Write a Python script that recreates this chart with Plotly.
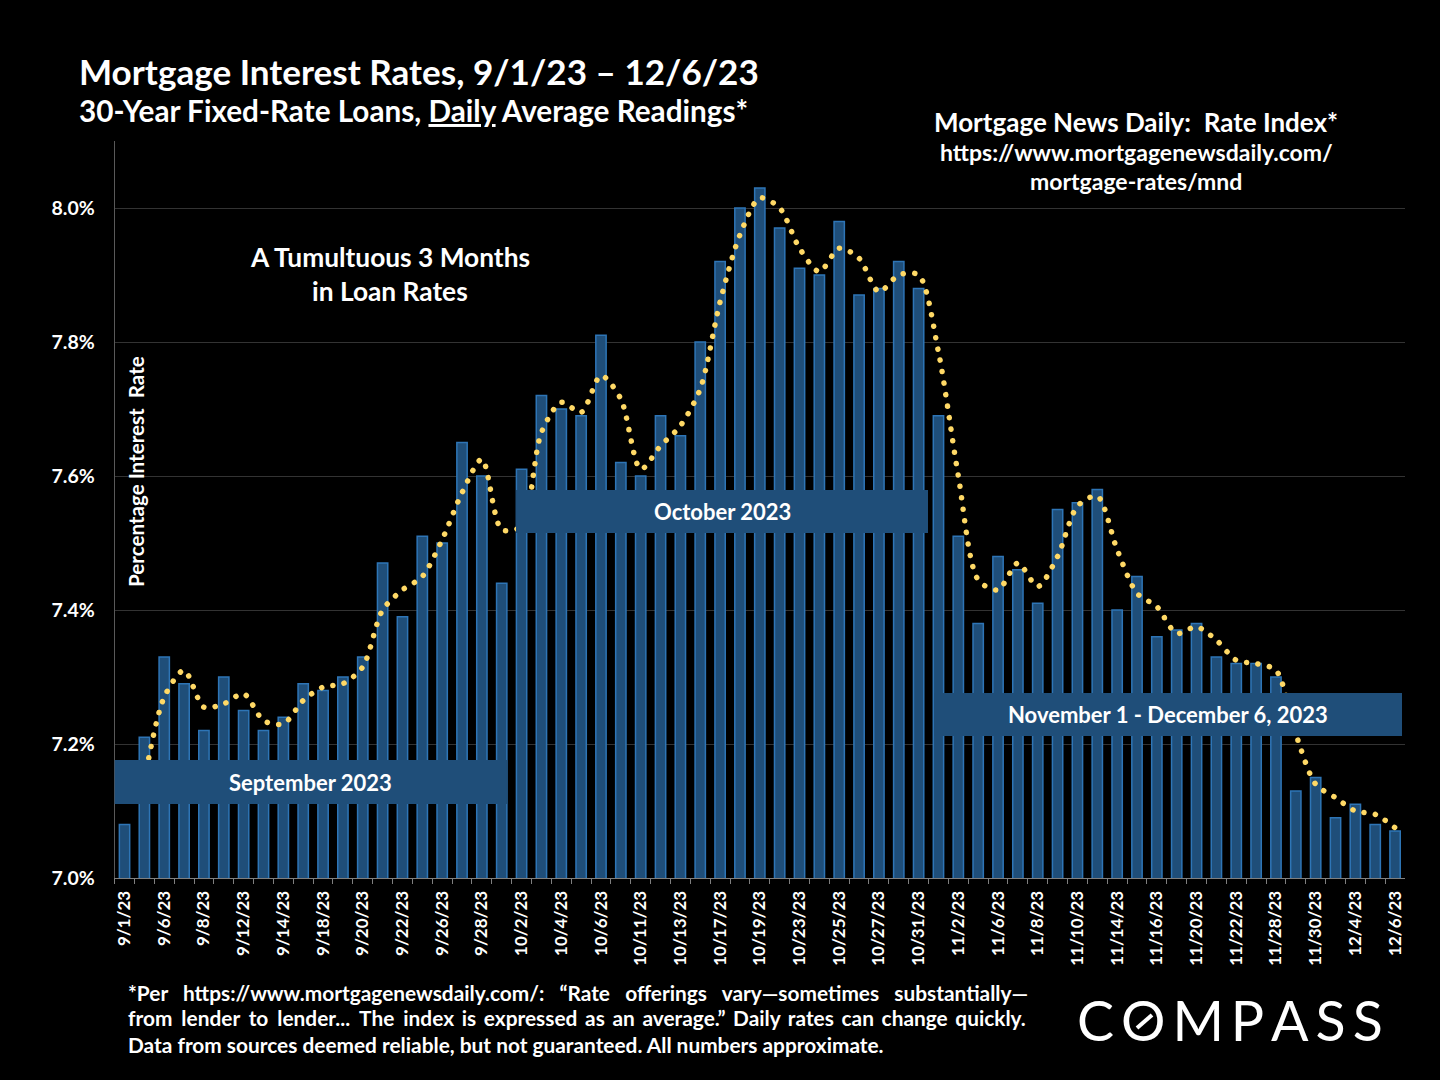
import plotly.graph_objects as go

dates = ["9/1/23","9/5/23","9/6/23","9/7/23","9/8/23","9/11/23","9/12/23","9/13/23","9/14/23","9/15/23",
         "9/18/23","9/19/23","9/20/23","9/21/23","9/22/23","9/25/23","9/26/23","9/27/23","9/28/23","9/29/23",
         "10/2/23","10/3/23","10/4/23","10/5/23","10/6/23","10/10/23","10/11/23","10/12/23","10/13/23","10/16/23",
         "10/17/23","10/18/23","10/19/23","10/20/23","10/23/23","10/24/23","10/25/23","10/26/23","10/27/23","10/30/23",
         "10/31/23","11/1/23","11/2/23","11/3/23","11/6/23","11/7/23","11/8/23","11/9/23","11/10/23","11/13/23",
         "11/14/23","11/15/23","11/16/23","11/17/23","11/20/23","11/21/23","11/22/23","11/27/23","11/28/23","11/29/23",
         "11/30/23","12/1/23","12/4/23","12/5/23","12/6/23"]
rates = [7.08,7.21,7.33,7.29,7.22,7.30,7.25,7.22,7.24,7.29,
         7.28,7.30,7.33,7.47,7.39,7.51,7.50,7.65,7.60,7.44,
         7.61,7.72,7.70,7.69,7.81,7.62,7.60,7.69,7.66,7.80,
         7.92,8.00,8.03,7.97,7.91,7.90,7.98,7.87,7.88,7.92,
         7.88,7.69,7.51,7.38,7.48,7.46,7.41,7.55,7.56,7.58,
         7.40,7.45,7.36,7.37,7.38,7.33,7.32,7.32,7.30,7.13,
         7.15,7.09,7.11,7.08,7.07]
trend = [None,7.145,7.27,7.31,7.255,7.26,7.275,7.235,7.23,7.265,
         7.285,7.29,7.315,7.40,7.43,7.45,7.505,7.575,7.625,7.52,
         7.525,7.665,7.71,7.695,7.75,7.715,7.61,7.645,7.675,7.73,
         7.86,7.96,8.015,8.00,7.94,7.905,7.94,7.925,7.875,7.90,
         7.90,7.785,7.60,7.445,7.43,7.47,7.435,7.48,7.555,7.57,
         7.49,7.425,7.405,7.365,7.375,7.355,7.325,7.32,7.31,7.215,
         7.14,7.12,7.10,7.095,7.075]
tick_text = [d if i % 2 == 0 else "" for i, d in enumerate(dates)]
y_ticks = [7.0,7.2,7.4,7.6,7.8,8.0]
y_text = ["7.0%","7.2%","7.4%","7.6%","7.8%","8.0%"]

FONT = "Lato"
W, H = 1440, 1080
px = lambda v: v / W
py = lambda v: 1 - v / H

fig = go.Figure()
fig.add_bar(x=dates, y=rates, width=0.52,
            marker=dict(color="#1f4e79", line=dict(color="#2e75b6", width=1.5)), showlegend=False)
fig.add_scatter(x=dates, y=trend, mode="lines", showlegend=False, connectgaps=False,
                line=dict(color="#ffd966", width=5.5, shape="spline", smoothing=0.8, dash="0.1px,11.5px"))

def note(text, x, y, size, anchor="center", color="white", weight=700, angle=0):
    fig.add_annotation(text=text, xref="paper", yref="paper", x=px(x), y=py(y), xanchor=anchor,
                       yanchor="middle", showarrow=False, textangle=angle, align="center",
                       font=dict(family=FONT, size=size, color=color, weight=weight))

def band(x0, x1, y0, y1, label, size=22):
    fig.add_shape(type="rect", xref="paper", yref="paper", x0=px(x0), x1=px(x1), y0=py(y0), y1=py(y1),
                  fillcolor="#1f4e79", line=dict(width=0), layer="above")
    note(label, (x0 + x1) / 2, (y0 + y1) / 2, size)

band(114.6, 507, 760, 804, "September 2023")
band(516, 928, 490, 533, "October 2023")
band(934, 1402, 693, 736, "November 1 - December 6, 2023")

note("Mortgage Interest Rates, 9/1/23 – 12/6/23", 77, 71, 35.1, "left")
note("30-Year Fixed-Rate Loans, <u>Daily</u> Average Readings*", 77, 111, 29.7, "left")
note("Mortgage News Daily:  Rate Index*", 1136, 122, 26)
note("https://www.mortgagenewsdaily.com/", 1136, 152, 23)
note("mortgage-rates/mnd", 1136, 181, 23)
note("A Tumultuous 3 Months", 390, 257, 26.3)
note("in Loan Rates", 390, 291, 26.3)
note("Percentage Interest  Rate", 136, 472, 20.6, angle=-90)

NB = "\u00a0"
TH = "\u2009"
HR = "\u200a"
note(f"*Per{NB*3}https://www.mortgagenewsdaily.com/:{NB*3}“Rate{NB*3}offerings{NB*3}vary—sometimes{NB*3}substantially—",
     126, 992, 20.85, "left")
note("from lender to lender... The index".replace(" ", NB + TH + HR) + NB + TH
     + "is expressed as an average.” Daily rates can change quickly.".replace(" ", NB + TH),
     126, 1018, 20.85, "left")
note("Data from sources deemed reliable, but not guaranteed. All numbers approximate.", 126, 1044, 20.85, "left")

note("C\u2009O\u2009M\u2009P\u2009A\u2009S\u2009S", 1230, 1019, 55.5, weight=400)
fig.add_shape(type="line", xref="paper", yref="paper", x0=px(1137), x1=px(1152), y0=py(1028), y1=py(1015),
              line=dict(color="white", width=4), layer="above")

fig.update_layout(
    width=W, height=H, paper_bgcolor="black", plot_bgcolor="black",
    margin=dict(l=0, r=0, t=0, b=0), bargap=0.5,
    font=dict(family=FONT, color="white"),
    xaxis=dict(domain=[px(114.6), px(1405)], type="category", categoryorder="array", categoryarray=dates,
               tickmode="array", tickvals=dates, ticktext=tick_text, tickson="boundaries", automargin=False,
               ticks="outside", ticklen=5, tickcolor="#7f7f7f", tickangle=-90,
               tickfont=dict(family=FONT, size=17, color="white", weight=700),
               ticklabelstandoff=5, showline=True, linecolor="#7f7f7f", linewidth=1, showgrid=False),
    yaxis=dict(domain=[py(878), py(141)], range=[7.0, 8.1], tickmode="array", tickvals=y_ticks, ticktext=y_text,
               ticks="", ticklabelstandoff=15, automargin=False,
               tickfont=dict(family=FONT, size=19.5, color="white", weight=700),
               showline=True, linecolor="#595959", linewidth=1,
               gridcolor="#333333", gridwidth=1, zeroline=False),
)

post = """
document.documentElement.style.margin='0';document.body.style.margin='0';
document.querySelectorAll('.scatterlayer .js-line').forEach(function(p){p.style.strokeLinecap='round';});
"""
fig.write_html("out.html", post_script=post, config=dict(displayModeBar=False))
